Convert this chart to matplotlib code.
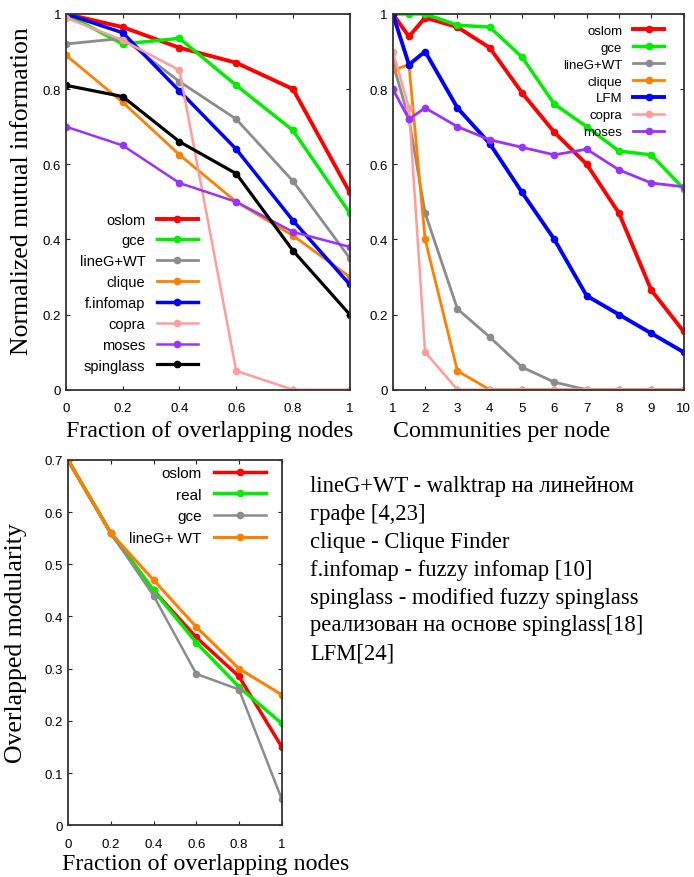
import matplotlib
matplotlib.use("Agg")
import matplotlib.pyplot as plt

# --- data ---
frac = [0, 0.2, 0.4, 0.6, 0.8, 1.0]
nmi_oslom = [1.0, 0.965, 0.91, 0.87, 0.80, 0.525]
nmi_gce = [1.0, 0.92, 0.935, 0.81, 0.69, 0.47]
nmi_lineg = [0.92, 0.935, 0.82, 0.72, 0.555, 0.35]
nmi_clique = [0.89, 0.765, 0.625, 0.50, 0.41, 0.30]
nmi_finfomap = [1.0, 0.95, 0.795, 0.64, 0.45, 0.28]
nmi_copra = [0.99, 0.93, 0.85, 0.05, 0.0, 0.0]
nmi_moses = [0.70, 0.65, 0.55, 0.50, 0.42, 0.38]
nmi_spinglass = [0.81, 0.78, 0.66, 0.575, 0.37, 0.20]

comm = [1, 1.5, 2, 3, 4, 5, 6, 7, 8, 9, 10]
cpn_oslom = [1.0, 0.94, 0.99, 0.965, 0.91, 0.79, 0.685, 0.60, 0.47, 0.265, 0.155]
cpn_gce = [1.0, 1.0, 1.0, 0.97, 0.965, 0.885, 0.76, 0.70, 0.635, 0.625, 0.535]
cpn_lineg = [0.87, 0.72, 0.47, 0.215, 0.14, 0.06, 0.02, 0.0, 0.0, 0.0, 0.0]
cpn_clique = [0.85, 0.865, 0.40, 0.05, 0.0, 0.0, 0.0, 0.0, 0.0, 0.0, 0.0]
cpn_lfm = [1.0, 0.865, 0.90, 0.75, 0.655, 0.525, 0.40, 0.25, 0.20, 0.15, 0.10]
cpn_copra = [0.90, 0.75, 0.10, 0.0, 0.0, 0.0, 0.0, 0.0, 0.0, 0.0, 0.0]
cpn_moses = [0.80, 0.72, 0.75, 0.70, 0.665, 0.645, 0.625, 0.64, 0.585, 0.55, 0.54]

mod_oslom = [0.70, 0.56, 0.45, 0.36, 0.285, 0.15]
mod_real = [0.70, 0.56, 0.45, 0.35, 0.265, 0.195]
mod_gce = [0.70, 0.56, 0.44, 0.29, 0.26, 0.05]
mod_lineg = [0.70, 0.56, 0.47, 0.38, 0.30, 0.25]

notes = ["lineG+WT - walktrap на линейном",
         "графе [4,23]",
         "clique - Clique Finder",
         "f.infomap - fuzzy infomap [10]",
         "spinglass - modified fuzzy spinglass",
         "реализован на основе spinglass[18]",
         "LFM[24]"]

RED = "#ff0000"
GREEN = "#00ee00"
GREY = "#8c8c8c"
ORANGE = "#ff7f00"
BLUE = "#0000ff"
PINK = "#ff9c9c"
PURPLE = "#9933ff"
BLACK = "#000000"

serif = "Liberation Serif"
sans = "Liberation Sans"

fig = plt.figure(figsize=(6.94, 8.78), dpi=100)


def style(ax):
    ax.tick_params(direction="in", top=True, right=True, length=3,
                   labelsize=9.5, color="#222222")
    ax.tick_params(axis="x", pad=9)
    for lab in ax.get_xticklabels() + ax.get_yticklabels():
        lab.set_fontfamily(sans)
    for s in ax.spines.values():
        s.set_linewidth(1.3)
        s.set_color("#333333")


def line(ax, x, y, c, lw, label):
    ax.plot(x, y, color=c, lw=lw, marker="o", ms=4.5, label=label,
            solid_joinstyle="round")


def legend(ax, anchor, loc, size, spacing, hl):
    leg = ax.legend(loc=loc, bbox_to_anchor=anchor, frameon=False,
                    markerfirst=False, handlelength=hl, labelspacing=spacing,
                    prop={"family": sans, "size": size}, handletextpad=0.8,
                    borderaxespad=0)
    for t in leg.get_texts():
        t.set_ha("right")


# top left
ax1 = fig.add_axes([0.095, 0.555, 0.409, 0.428])
line(ax1, frac, nmi_oslom, RED, 2.8, "oslom")
line(ax1, frac, nmi_gce, GREEN, 2.5, "gce")
line(ax1, frac, nmi_lineg, GREY, 2.0, "lineG+WT")
line(ax1, frac, nmi_clique, ORANGE, 2.0, "clique")
line(ax1, frac, nmi_finfomap, BLUE, 2.5, "f.infomap")
line(ax1, frac, nmi_copra, PINK, 1.8, "copra")
line(ax1, frac, nmi_moses, PURPLE, 1.8, "moses")
line(ax1, frac, nmi_spinglass, BLACK, 2.3, "spinglass")
ax1.set_xlim(0, 1)
ax1.set_ylim(0, 1)
ax1.set_xticks(frac)
ax1.set_xticklabels(["0", "0.2", "0.4", "0.6", "0.8", "1"])
ax1.set_yticks([0, 0.2, 0.4, 0.6, 0.8, 1])
ax1.set_yticklabels(["0", "0.2", "0.4", "0.6", "0.8", "1"])
ax1.set_xlabel("Fraction of overlapping nodes", fontfamily=serif, fontsize=17.2,
               loc="left", labelpad=4)
ax1.set_ylabel("Normalized mutual information", fontfamily=serif, fontsize=18.5)
ax1.yaxis.set_label_coords(-0.115, 0.53)
style(ax1)
legend(ax1, (0.485, 0.03), "lower right", 10.5, 0.47, 2.8)

# top right
ax2 = fig.add_axes([0.566, 0.555, 0.419, 0.428])
line(ax2, comm, cpn_oslom, RED, 2.8, "oslom")
line(ax2, comm, cpn_gce, GREEN, 2.5, "gce")
line(ax2, comm, cpn_lineg, GREY, 2.0, "lineG+WT")
line(ax2, comm, cpn_clique, ORANGE, 2.0, "clique")
line(ax2, comm, cpn_lfm, BLUE, 2.8, "LFM")
line(ax2, comm, cpn_copra, PINK, 1.8, "copra")
line(ax2, comm, cpn_moses, PURPLE, 2.0, "moses")
ax2.set_xlim(1, 10)
ax2.set_ylim(0, 1)
ax2.set_xticks(range(1, 11))
ax2.set_yticks([0, 0.2, 0.4, 0.6, 0.8, 1])
ax2.set_yticklabels(["0", "0.2", "0.4", "0.6", "0.8", "1"])
ax2.set_xlabel("Communities per node", fontfamily=serif, fontsize=17.2,
               loc="left", labelpad=4)
style(ax2)
legend(ax2, (0.952, 0.985), "upper right", 9.5, 0.35, 2.4)

# bottom left
ax3 = fig.add_axes([0.098, 0.059, 0.308, 0.416])
line(ax3, frac, mod_oslom, RED, 2.5, "oslom")
line(ax3, frac, mod_real, GREEN, 2.5, "real")
line(ax3, frac, mod_gce, GREY, 1.8, "gce")
line(ax3, frac, mod_lineg, ORANGE, 2.2, "lineG+ WT")
ax3.set_xlim(0, 1)
ax3.set_ylim(0, 0.7)
ax3.set_xticks(frac)
ax3.set_xticklabels(["0", "0.2", "0.4", "0.6", "0.8", "1"])
ax3.set_yticks([0, 0.1, 0.2, 0.3, 0.4, 0.5, 0.6, 0.7])
ax3.set_yticklabels(["0", "0.1", "0.2", "0.3", "0.4", "0.5", "0.6", "0.7"])
ax3.set_xlabel("Fraction of overlapping nodes", fontfamily=serif, fontsize=17.2)
ax3.set_ylabel("Overlapped modularity", fontfamily=serif, fontsize=18.5)
ax3.xaxis.set_label_coords(-0.03, -0.075)
ax3.xaxis.label.set_ha("left")
ax3.yaxis.set_label_coords(-0.19, 0.5)
style(ax3)
legend(ax3, (0.955, 1.0), "upper right", 11, 0.5, 3.4)

fig.text(310 / 694, 1 - 476 / 878, "\n".join(notes), fontfamily=serif, fontsize=16.3,
         va="top", ha="left", linespacing=1.43)

fig.savefig("out.png", dpi=100)
